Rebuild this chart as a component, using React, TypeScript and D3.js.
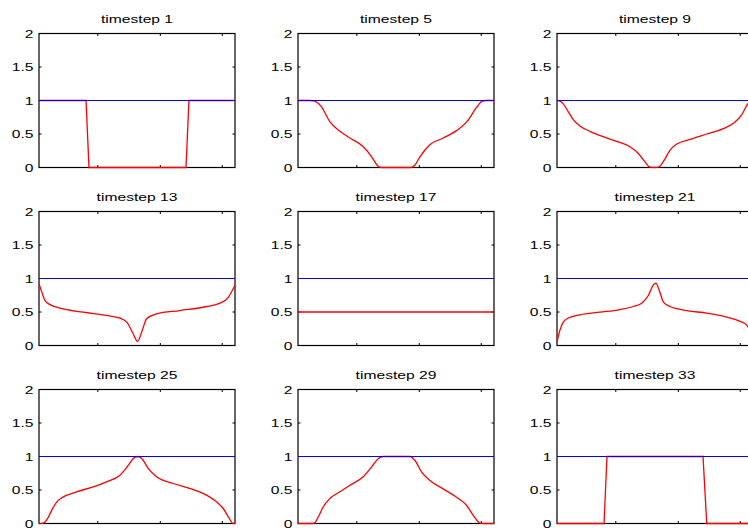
import React from "react";
import * as d3 from "d3";

const timesteps = [1, 5, 9, 13, 17, 21, 25, 29, 33];
const yTicks = [0, 0.5, 1, 1.5, 2];
const yTickLabels = ["0", "0.5", "1", "1.5", "2"];
const xTicks = [0.3, 0.619, 0.935];
const reference: [number, number][] = [[0, 1], [1, 1]];

const u1: [number, number][] = [[0, 1], [0.24, 1], [0.255, 0], [0.75, 0], [0.765, 1], [1, 1]];
const u5: [number, number][] = [
  [0, 1], [0.06, 1], [0.085, 0.99], [0.121, 0.9], [0.163, 0.68], [0.214, 0.54], [0.265, 0.44],
  [0.333, 0.31], [0.376, 0.16], [0.405, 0.03], [0.425, 0], [0.575, 0], [0.595, 0.03], [0.622, 0.16],
  [0.673, 0.34], [0.741, 0.44], [0.809, 0.55], [0.861, 0.68], [0.912, 0.9], [0.94, 0.99], [0.96, 1], [1, 1],
];
const u9: [number, number][] = [
  [0, 1], [0.015, 0.99], [0.032, 0.95], [0.058, 0.83], [0.084, 0.71], [0.117, 0.62], [0.168, 0.54],
  [0.236, 0.46], [0.304, 0.39], [0.372, 0.31], [0.415, 0.21], [0.449, 0.085], [0.474, 0.005], [0.495, 0],
  [0.517, 0.005], [0.543, 0.09], [0.577, 0.26], [0.611, 0.35], [0.679, 0.42], [0.764, 0.5], [0.849, 0.58],
  [0.9, 0.66], [0.943, 0.79], [0.969, 0.93], [0.985, 0.99], [1, 1],
];
const u13: [number, number][] = [
  [0, 0.92], [0.014, 0.8], [0.031, 0.67], [0.056, 0.61], [0.107, 0.557], [0.226, 0.497], [0.345, 0.448],
  [0.413, 0.41], [0.45, 0.34], [0.478, 0.19], [0.503, 0.06], [0.526, 0.22], [0.549, 0.4], [0.6, 0.473],
  [0.719, 0.522], [0.855, 0.582], [0.923, 0.632], [0.966, 0.72], [0.986, 0.82], [1, 0.9],
];
const u17: [number, number][] = [[0, 0.5], [1, 0.5]];
const u21: [number, number][] = [
  [0, 0.05], [0.014, 0.22], [0.032, 0.35], [0.058, 0.41], [0.117, 0.458], [0.219, 0.497], [0.321, 0.537],
  [0.389, 0.582], [0.432, 0.632], [0.466, 0.746], [0.491, 0.9], [0.505, 0.93], [0.522, 0.82], [0.543, 0.647],
  [0.577, 0.582], [0.662, 0.522], [0.764, 0.483], [0.866, 0.423], [0.934, 0.36], [0.969, 0.3], [0.986, 0.2], [1, 0.05],
];
const u25: [number, number][] = [
  [0, 0], [0.025, 0.01], [0.045, 0.08], [0.065, 0.2], [0.09, 0.32], [0.12, 0.39], [0.192, 0.473],
  [0.277, 0.547], [0.345, 0.622], [0.413, 0.72], [0.456, 0.87], [0.481, 0.97], [0.503, 1], [0.524, 0.97],
  [0.558, 0.82], [0.6, 0.697], [0.685, 0.597], [0.787, 0.507], [0.855, 0.423], [0.906, 0.323],
  [0.94, 0.224], [0.966, 0.1], [0.991, 0], [1, 0],
];
const u29: [number, number][] = [
  [0, 0], [0.07, 0], [0.085, 0.01], [0.104, 0.1], [0.129, 0.25], [0.163, 0.373], [0.214, 0.473],
  [0.265, 0.572], [0.333, 0.697], [0.376, 0.846], [0.41, 0.97], [0.435, 1], [0.571, 1], [0.597, 0.94],
  [0.631, 0.767], [0.673, 0.642], [0.741, 0.517], [0.809, 0.393], [0.861, 0.269], [0.895, 0.119],
  [0.929, 0.005], [0.946, 0], [1, 0],
];
const u33: [number, number][] = [[0, 0], [0.24, 0], [0.255, 1], [0.745, 1], [0.764, 0], [1, 0]];

const series = [u1, u5, u9, u13, u17, u21, u25, u29, u33];
const stepPanels = [true, false, false, false, false, false, false, false, true];

const colLeft = [39, 298, 557];
const rowTop = [33.5, 211.5, 389.5];
const W = 196;
const H = 134;
const SX = 1.36;
const FS = 11.5;
const FONT = "'Liberation Sans', Arial, Helvetica, sans-serif";

function Panel({ idx }: { idx: number }) {
  const left = colLeft[idx % 3];
  const top = rowTop[Math.floor(idx / 3)];
  const x = d3.scaleLinear().domain([0, 1]).range([left, left + W]);
  const y = d3.scaleLinear().domain([0, 2]).range([top + H, top]);
  const line = d3
    .line<[number, number]>()
    .x((d) => x(d[0]))
    .y((d) => y(d[1]))
    .curve(stepPanels[idx] ? d3.curveLinear : d3.curveMonotoneX);
  const tl = 2.5;
  return (
    <g>
      <g transform={`translate(${left + W / 2},${top - 11}) scale(${SX},1)`}>
        <text x={0} y={0} textAnchor="middle" fontSize={FS} fontFamily={FONT} fill="#000">
          {`timestep ${timesteps[idx]}`}
        </text>
      </g>
      {yTicks.map((t, i) => (
        <g key={"yl" + i} transform={`translate(${left - 5.5},${y(t) + 4})`}>
          <g transform={`scale(${SX},1)`}>
            <text x={0} y={0} textAnchor="end" fontSize={FS} fontFamily={FONT} fill="#000">
              {yTickLabels[i]}
            </text>
          </g>
        </g>
      ))}
      {yTicks.map((t, i) => (
        <g key={"yt" + i} stroke="#000" strokeWidth={1}>
          <line x1={left} x2={left + tl} y1={y(t)} y2={y(t)} />
          <line x1={left + W} x2={left + W - tl} y1={y(t)} y2={y(t)} />
        </g>
      ))}
      {xTicks.map((t, i) => (
        <g key={"xt" + i} stroke="#000" strokeWidth={1}>
          <line x1={x(t)} x2={x(t)} y1={top + H} y2={top + H - tl} />
          <line x1={x(t)} x2={x(t)} y1={top} y2={top + tl} />
        </g>
      ))}
      <rect x={left} y={top} width={W} height={H} fill="none" stroke="#000" strokeWidth={1.2} />
      <path d={line(series[idx]) || ""} fill="none" stroke="#ff0000" strokeWidth={1.3} />
      <path d={line(reference) || ""} fill="none" stroke="#0000ff" strokeWidth={1.2} />
    </g>
  );
}

export default function App() {
  return (
    <svg
      width={748}
      height={529}
      viewBox="0 0 748 529"
      style={{ position: "fixed", left: 0, top: 0, background: "#fff" }}
    >
      <rect x={0} y={0} width={748} height={529} fill="#fff" />
      {timesteps.map((_, i) => (
        <Panel key={i} idx={i} />
      ))}
    </svg>
  );
}
